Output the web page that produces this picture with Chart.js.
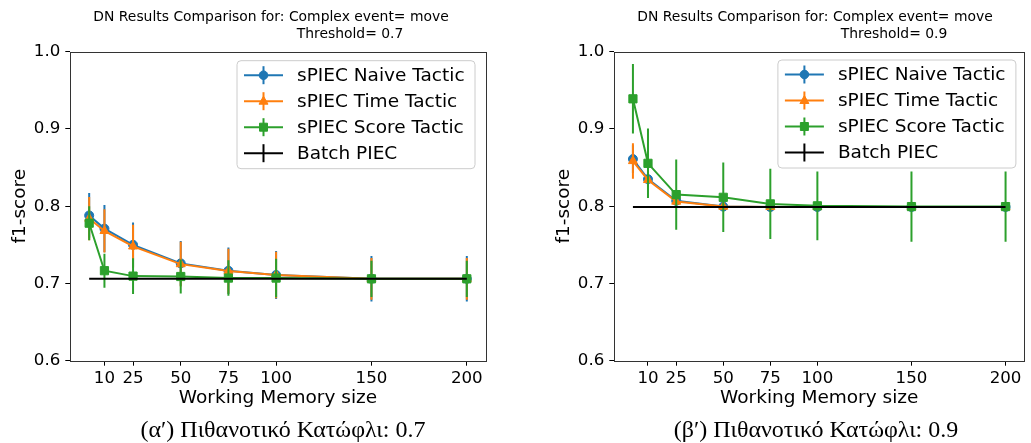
<!DOCTYPE html>
<html>
<head>
<meta charset="utf-8">
<script src="https://cdn.jsdelivr.net/npm/chart.js@4.4.1/dist/chart.umd.min.js"></script>
<style>
  html, body { margin: 0; padding: 0; background: #fff; }
  body { width: 1031px; height: 443px; position: relative; overflow: hidden; }
  canvas { position: absolute; top: 0; }
  .t { position: absolute; font-family: 'DejaVu Sans', sans-serif; font-size: 13.9px; color: #000;
       width: 500px; text-align: center; line-height: 16px; white-space: pre; }
  .cap { position: absolute; font-family: 'Liberation Serif', 'DejaVu Serif', serif; font-size: 24px; color: #000;
         width: 500px; text-align: center; line-height: 26px; white-space: pre; }
</style>
</head>
<body>
<canvas id="c1" width="515" height="443" style="left:0px"></canvas>
<canvas id="c2" width="487" height="443" style="left:544px"></canvas>

<div class="t" style="left:21px; top:8px;">DN Results Comparison for: Complex event= move</div>
<div class="t" style="left:100px; top:25px;">Threshold= 0.7</div>
<div class="t" style="left:565px; top:8px;">DN Results Comparison for: Complex event= move</div>
<div class="t" style="left:644px; top:25px;">Threshold= 0.9</div>

<div class="cap" style="left:33px; top:416px;">(α′) Πιθανοτικό Κατώφλι: 0.7</div>
<div class="cap" style="left:566px; top:416px;">(β′) Πιθανοτικό Κατώφλι: 0.9</div>

<script>
// ---------- data ----------
const memorySizes = [2, 10, 25, 50, 75, 100, 150, 200];
const xTickValues = [10, 25, 50, 75, 100, 150, 200];
const yTickStep = 0.1;
const seriesLabels = ['sPIEC Naive Tactic', 'sPIEC Time Tactic', 'sPIEC Score Tactic', 'Batch PIEC'];

// Threshold 0.7
const naive07    = [0.788, 0.771, 0.750, 0.726, 0.7165, 0.711, 0.706, 0.706];
const naiveErr07 = [0.029, 0.0305, 0.029, 0.029, 0.030, 0.031, 0.0295, 0.0295];
const time07     = [0.784, 0.768, 0.748, 0.725, 0.716, 0.711, 0.706, 0.706];
const timeErr07  = [0.028, 0.028, 0.028, 0.029, 0.029, 0.030, 0.027, 0.027];
const score07    = [0.778, 0.7165, 0.7095, 0.709, 0.707, 0.707, 0.706, 0.706];
const scoreErr07 = [0.022, 0.022, 0.023, 0.022, 0.023, 0.025, 0.0235, 0.0235];
const batch07    = [0.706, 0.706, 0.706, 0.706, 0.706, 0.706, 0.706, 0.706];

// Threshold 0.9
const naive09    = [0.861, 0.835, 0.807, 0.7995, 0.799, 0.799, 0.799, 0.799];
const naiveErr09 = [0.018, 0.010, 0.005, 0.003, 0.002, 0.002, 0.001, 0.001];
const time09     = [0.8585, 0.834, 0.806, 0.7995, 0.799, 0.799, 0.799, 0.799];
const timeErr09  = [0.023, 0.008, 0.004, 0.002, 0.001, 0.001, 0.001, 0.001];
const score09    = [0.939, 0.8555, 0.815, 0.8115, 0.803, 0.8005, 0.7995, 0.7995];
const scoreErr09 = [0.045, 0.045, 0.0455, 0.045, 0.0455, 0.0445, 0.0455, 0.0455];
const batch09    = [0.799, 0.799, 0.799, 0.799, 0.799, 0.799, 0.799, 0.799];

// ---------- styling ----------
const BLUE = '#1f77b4', ORANGE = '#ff7f0e', GREEN = '#2ca02c', BLACK = '#000000';
const FONT = 'DejaVu Sans';
const FS = 16.67;      // tick labels
const FS_LBL = 18.5;   // axis titles and legend
Chart.defaults.font.family = FONT;
Chart.defaults.font.size = FS;
Chart.defaults.color = '#000';

function pts(vals) { return memorySizes.map((x, i) => ({ x: x, y: vals[i] })); }

function makeDatasets(n, nE, t, tE, s, sE, b) {
  return [
    { label: seriesLabels[0], data: pts(n), errors: nE, borderColor: BLUE, backgroundColor: BLUE,
      pointStyle: 'circle', pointRadius: 4.5, order: 4, mk: 'circle' },
    { label: seriesLabels[1], data: pts(t), errors: tE, borderColor: ORANGE, backgroundColor: ORANGE,
      pointStyle: 'triangle', pointRadius: 5.2, order: 3, mk: 'triangle' },
    { label: seriesLabels[2], data: pts(s), errors: sE, borderColor: GREEN, backgroundColor: GREEN,
      pointStyle: 'rect', pointRadius: 5.8, order: 2, mk: 'square' },
    { label: seriesLabels[3], data: pts(b), errors: b.map(() => 0), borderColor: BLACK, backgroundColor: BLACK,
      pointStyle: 'circle', pointRadius: 0, order: 1, mk: 'none' }
  ];
}

const errPlugin = {
  id: 'errbars',
  beforeDatasetDraw(chart, args) {
    const ds = chart.data.datasets[args.index];
    if (!ds.errors) return;
    const ctx = chart.ctx, xs = chart.scales.x, ys = chart.scales.y, ca = chart.chartArea;
    ctx.save();
    ctx.beginPath(); ctx.rect(ca.left, ca.top, ca.right - ca.left, ca.bottom - ca.top); ctx.clip();
    ctx.strokeStyle = ds.borderColor; ctx.lineWidth = 2;
    ds.data.forEach((p, i) => {
      const e = ds.errors[i];
      if (!e) return;
      const px = xs.getPixelForValue(p.x);
      ctx.beginPath();
      ctx.moveTo(px, ys.getPixelForValue(p.y - e));
      ctx.lineTo(px, ys.getPixelForValue(p.y + e));
      ctx.stroke();
    });
    ctx.restore();
  }
};

function drawMarker(ctx, kind, x, y, color) {
  ctx.fillStyle = color; ctx.strokeStyle = color; ctx.lineWidth = 1;
  ctx.beginPath();
  if (kind === 'circle') { ctx.arc(x, y, 4.3, 0, Math.PI * 2); }
  else if (kind === 'triangle') { ctx.moveTo(x, y - 5); ctx.lineTo(x + 4.5, y + 3); ctx.lineTo(x - 4.5, y + 3); ctx.closePath(); }
  else if (kind === 'square') { ctx.rect(x - 4, y - 4, 8, 8); }
  else return;
  ctx.fill(); ctx.stroke();
}

const framePlugin = {
  id: 'mplFrame',
  afterDraw(chart, args, opts) {
    const ctx = chart.ctx, ca = chart.chartArea;
    ctx.save();
    ctx.strokeStyle = '#333'; ctx.lineWidth = 1;
    ctx.strokeRect(Math.round(ca.left) + 0.5, Math.round(ca.top) + 0.5,
                   Math.round(ca.right) - Math.round(ca.left), Math.round(ca.bottom) - Math.round(ca.top));
    // legend
    const w = 238, h = 108;
    const x0 = ca.right - opts.right - w, y0 = ca.top + opts.top;
    const r = 4;
    ctx.beginPath();
    ctx.moveTo(x0 + r, y0); ctx.lineTo(x0 + w - r, y0); ctx.quadraticCurveTo(x0 + w, y0, x0 + w, y0 + r);
    ctx.lineTo(x0 + w, y0 + h - r); ctx.quadraticCurveTo(x0 + w, y0 + h, x0 + w - r, y0 + h);
    ctx.lineTo(x0 + r, y0 + h); ctx.quadraticCurveTo(x0, y0 + h, x0, y0 + h - r);
    ctx.lineTo(x0, y0 + r); ctx.quadraticCurveTo(x0, y0, x0 + r, y0); ctx.closePath();
    ctx.fillStyle = 'rgba(255,255,255,0.88)'; ctx.fill();
    ctx.strokeStyle = '#cccccc'; ctx.lineWidth = 1; ctx.stroke();
    chart.data.datasets.forEach((ds, i) => {
      const ry = y0 + 14.5 + i * 26;
      const hx0 = x0 + 7, hx1 = x0 + 46, hc = (hx0 + hx1) / 2;
      ctx.strokeStyle = ds.borderColor; ctx.lineWidth = 2;
      ctx.beginPath(); ctx.moveTo(hx0, ry); ctx.lineTo(hx1, ry); ctx.stroke();
      ctx.beginPath(); ctx.moveTo(hc, ry - 9); ctx.lineTo(hc, ry + 9); ctx.stroke();
      drawMarker(ctx, ds.mk, hc, ry, ds.borderColor);
      ctx.fillStyle = '#000'; ctx.font = FS_LBL + 'px "' + FONT + '"';
      ctx.textAlign = 'left'; ctx.textBaseline = 'middle';
      ctx.fillText(ds.label, x0 + 60, ry + 1);
    });
    ctx.restore();
  }
};

function makeChart(id, datasets, rightPad, legendInset) {
  return new Chart(document.getElementById(id), {
    type: 'line',
    data: { datasets: datasets },
    plugins: [errPlugin, framePlugin],
    options: {
      responsive: false,
      animation: false,
      devicePixelRatio: 1,
      layout: { padding: { left: 0, right: rightPad, top: 51.7, bottom: 32.3 } },
      elements: {
        line: { borderWidth: 2, tension: 0 },
        point: { borderWidth: 1 }
      },
      plugins: {
        legend: { display: false },
        tooltip: { enabled: false },
        mplFrame: legendInset
      },
      scales: {
        x: {
          type: 'linear',
          min: -7.9, max: 209.9,
          afterBuildTicks: (s) => { s.ticks = xTickValues.map(v => ({ value: v })); },
          afterFit: (s) => { s.height = 50; },
          ticks: { callback: (v) => String(v), padding: 3, maxRotation: 0, autoSkip: false, color: '#000' },
          grid: { display: true, drawOnChartArea: false, drawTicks: true, tickLength: 5, color: '#000', lineWidth: 1 },
          border: { display: false },
          title: { display: true, text: 'Working Memory size', color: '#000', font: { size: FS_LBL },
                   padding: { top: 0, bottom: 1.6 } }
        },
        y: {
          type: 'linear',
          min: 0.6, max: 1.0,
          afterFit: (s) => { s.width = 70.3; },
          ticks: { stepSize: yTickStep, callback: (v) => v.toFixed(1), padding: 5, color: '#000' },
          grid: { display: true, drawOnChartArea: false, drawTicks: true, tickLength: 5, color: '#000', lineWidth: 1 },
          border: { display: false },
          title: { display: true, text: 'f1-score', color: '#000', font: { size: FS_LBL },
                   padding: { top: 8.9, bottom: 0 } }
        }
      }
    }
  });
}

makeChart('c1', makeDatasets(naive07, naiveErr07, time07, timeErr07, score07, scoreErr07, batch07), 29.3, { right: 10.7, top: 9 });
makeChart('c2', makeDatasets(naive09, naiveErr09, time09, timeErr09, score09, scoreErr09, batch09), 2.7, { right: 8.3, top: 8.3 });
</script>
</body>
</html>
